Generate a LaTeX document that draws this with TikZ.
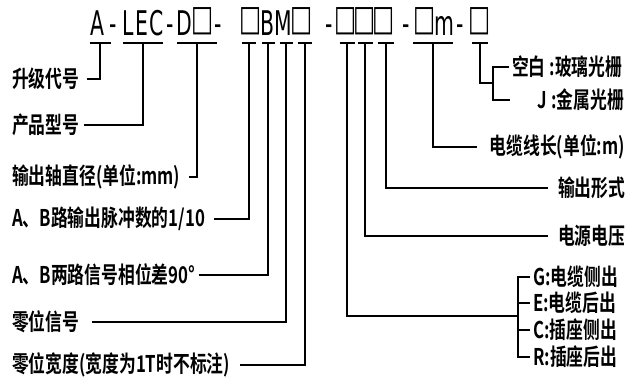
\documentclass[tikz,border=0pt]{standalone}
\usepackage{fontspec}
\usepackage{graphicx}
\usepackage{tikz}
\usetikzlibrary{calc}
\newfontfamily\codefont[FakeStretch=0.6]{DejaVu Sans}
\newfontfamily\lblfont[FakeStretch=0.73]{Noto Sans CJK SC Bold}
\newcommand{\tallbox}{\raisebox{4.6pt}{\scalebox{1.15}[1.05]{□}}}
\tikzset{
  codechar/.style={anchor=base,inner sep=0pt,font=\codefont\fontsize{34}{34}\selectfont},
  partlabel/.style={inner sep=0pt,font=\lblfont\fontsize{23}{24}\selectfont},
  leader/.style={line width=1.8pt},
}
\newcommand{\codetick}[3]{%
  \coordinate (#1) at (#2,43);%
  \draw[leader] (#2-#3,43) -- (#2+#3,43);%
}

\begin{document}
\begin{tikzpicture}[x=1pt,y=-1pt]
  \useasboundingbox (0,0) rectangle (627,381);
  \foreach \cx/\ch [count=\ci] in {97/A,113.5/-,128/L,142/E,157/C,170/-,184/D,202.5/\tallbox,218.5/-,
      250.5/\tallbox,267.5/B,283.5/M,301.5/\tallbox,329/-,346/\tallbox,365/\tallbox,384/\tallbox,406/-,
      424.5/\tallbox,444.5/m,460/-,480/\tallbox}
    \node[codechar] (c\ci) at (\cx,35) {\ch};
  \codetick{t1}{100}{10.5}
  \codetick{t2}{143}{20}
  \codetick{t3}{197}{20}
  \codetick{t4}{249}{7}
  \codetick{t5}{268}{6.5}
  \codetick{t6}{286}{6.5}
  \codetick{t7}{305}{7}
  \codetick{t8}{347}{7.5}
  \codetick{t9}{365}{7.5}
  \codetick{t10}{386}{8}
  \codetick{t11}{433}{20}
  \codetick{t12}{480}{8}
  % left column
  \node[partlabel,anchor=west] (upg) at (12,79) {升级代号};
  \node[partlabel,anchor=west] (model) at (12,125) {产品型号};
  \node[partlabel,anchor=west] (shaft) at (12,177) {输出轴直径(单位:mm)};
  \node[partlabel,anchor=west] (pulse) at (12,219) {A、B路输出脉冲数的1/10};
  \node[partlabel,anchor=west] (phase) at (12,275) {A、B两路信号相位差90°};
  \node[partlabel,anchor=west] (zsig) at (12,322) {零位信号};
  \node[partlabel,anchor=west] (zwid) at (12,365) {零位宽度(宽度为1T时不标注)};
  % right column
  \node[partlabel,anchor=west] (glass) at (512,67) {空白 :玻璃光栅};
  \node[partlabel,anchor=east] (metal) at (624,100) {J :金属光栅};
  \node[partlabel,anchor=east] (cable) at (625,147) {电缆线长(单位:m)};
  \node[partlabel,anchor=west] (outp) at (558,188) {输出形式};
  \node[partlabel,anchor=west] (volt) at (558,236) {电源电压};
  \node[partlabel,anchor=west] (gside) at (533,277) {G:电缆侧出};
  \node[partlabel,anchor=west] (eback) at (533,303) {E:电缆后出};
  \node[partlabel,anchor=west] (cside) at (533,330) {C:插座侧出};
  \node[partlabel,anchor=west] (rback) at (533,357) {R:插座后出};
  \draw[leader] (t1) |- ([xshift=7pt]upg.east);
  \draw[leader] (t2) |- ([xshift=4pt]model.east);
  \draw[leader] (t3) |- ([xshift=9pt]shaft.east);
  \draw[leader] (t4) |- ([xshift=9pt]pulse.east);
  \draw[leader] (t5) |- ([xshift=3pt]phase.east);
  \draw[leader] (t6) |- ([xshift=12pt]zsig.east);
  \draw[leader] (t7) |- ([xshift=10pt]zwid.east);
  \draw[leader] (t9) |- ([xshift=-10pt]volt.west);
  \draw[leader] (t10) |- ([xshift=-10pt]outp.west);
  \draw[leader] (t11) |- ([xshift=-13pt]cable.west);
  \coordinate (gjoin) at (493,83);
  \draw[leader] (t12) |- (gjoin);
  \draw[leader] ([xshift=-3pt]glass.west) -| (gjoin) |- ([xshift=-28pt]metal.west);
  \coordinate (pjoin) at (518,316);
  \draw[leader] (t8) |- (pjoin);
  \draw[leader] ([xshift=-3pt]gside.west) -| (pjoin) |- ([xshift=-3pt]rback.west);
  \draw[leader] ([xshift=-3pt]eback.west) -- (eback.west -| pjoin);
  \draw[leader] ([xshift=-3pt]cside.west) -- (cside.west -| pjoin);
\end{tikzpicture}
\end{document}
